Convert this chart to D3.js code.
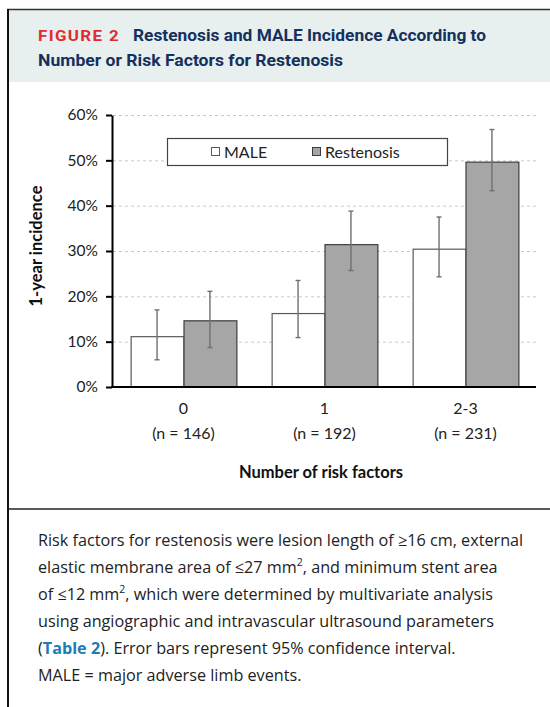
<!DOCTYPE html>
<html lang="en">
<head>
    <meta charset="utf-8">
    <title>Figure 2</title>
    <script src="https://d3js.org/d3.v7.min.js" charset="utf-8"></script>
    <style>
        body { margin: 0; background: #fff; }
        svg { display: block; }
    </style>
</head>
<body>

    <script>

    // data (percent)
    var categories = ["0", "1", "2-3"]
    var nLabels = ["(n = 146)", "(n = 192)", "(n = 231)"]
    var seriesNames = ["MALE", "Restenosis"]
    var maleValues = [11.1, 16.2, 30.4]
    var maleLow = [6.0, 10.9, 24.3]
    var maleHigh = [17.0, 23.5, 37.5]
    var restValues = [14.6, 31.4, 49.6]
    var restLow = [8.7, 25.7, 43.3]
    var restHigh = [21.1, 38.8, 56.8]
    var yTicks = [0, 10, 20, 30, 40, 50, 60]

    var captionLines = [
        [["Risk factors for restenosis were lesion length of \u226516 cm, external", ""]],
        [["elastic membrane area of \u226427 mm", ""], ["2", "sup"], [", and minimum stent area", "after"]],
        [["of \u226412 mm", ""], ["2", "sup"], [", which were determined by multivariate analysis", "after"]],
        [["using angiographic and intravascular ultrasound parameters", ""]],
        [["(", ""], ["Table 2", "link"], ["). Error bars represent 95% confidence interval.", ""]],
        [["MALE = major adverse limb events.", ""]]
    ]

    var W = 550, H = 707
    var chartFont = "Lato, 'Open Sans', sans-serif"

    var svg = d3.select("body").append("svg").attr("width", W).attr("height", H)

    // frame + header
    svg.append("rect").attr("x", 9).attr("y", 10).attr("width", W - 9).attr("height", 72).attr("fill", "#e8f0ef")
    svg.append("line").attr("x1", 7).attr("x2", W).attr("y1", 9.5).attr("y2", 9.5).attr("stroke", "#333").attr("stroke-width", 1.5)
    svg.append("line").attr("x1", 8).attr("x2", 8).attr("y1", 9).attr("y2", H).attr("stroke", "#111").attr("stroke-width", 2)
    svg.append("line").attr("x1", 8).attr("x2", W).attr("y1", 509).attr("y2", 509).attr("stroke", "#222").attr("stroke-width", 1.5)

    var head = svg.append("g").attr("font-family", "Roboto, sans-serif").attr("font-weight", "bold").attr("font-size", 16.5)
    head.append("text").attr("x", 38).attr("y", 41).attr("fill", "#e12b33").attr("letter-spacing", 1.2).attr("font-size", 15)
        .attr("textLength", 82).attr("lengthAdjust", "spacingAndGlyphs").text("FIGURE 2")
    head.append("text").attr("x", 133).attr("y", 41).attr("fill", "#15305e").attr("textLength", 353)
        .attr("lengthAdjust", "spacingAndGlyphs").text("Restenosis and MALE Incidence According to")
    head.append("text").attr("x", 38).attr("y", 66).attr("fill", "#15305e").attr("textLength", 305)
        .attr("lengthAdjust", "spacingAndGlyphs").text("Number or Risk Factors for Restenosis")

    // scales
    var x0 = d3.scaleBand().domain(categories).range([113, 536]).paddingInner(0.25).paddingOuter(0.125)
    var x1 = d3.scaleBand().domain(seriesNames).range([0, x0.bandwidth()])
    var y = d3.scaleLinear().domain([0, 60]).range([387, 115])

    var rows = categories.map(function (c, i) {
        return [
            {cat: c, s: "MALE", v: maleValues[i], lo: maleLow[i], hi: maleHigh[i]},
            {cat: c, s: "Restenosis", v: restValues[i], lo: restLow[i], hi: restHigh[i]}
        ]
    })
    var fills = {"MALE": "#ffffff", "Restenosis": "#a6a6a6"}
    var strokes = {"MALE": "#5a5a5a", "Restenosis": "#3c3c3c"}

    // gridlines
    svg.append("g").selectAll("line").data(yTicks.filter(function (d) { return d > 0 }))
        .enter().append("line")
        .attr("x1", 113).attr("x2", 536)
        .attr("y1", function (d) { return y(d) + 0.5 }).attr("y2", function (d) { return y(d) + 0.5 })
        .attr("stroke", "#c9c9c9").attr("stroke-dasharray", "3,3")

    // bars
    var groups = svg.append("g").selectAll("g").data(rows).enter().append("g")
        .attr("transform", function (d) { return "translate(" + x0(d[0].cat) + ",0)" })

    groups.selectAll("rect").data(function (d) { return d }).enter().append("rect")
        .attr("x", function (d) { return x1(d.s) + 0.5 })
        .attr("y", function (d) { return y(d.v) })
        .attr("width", x1.bandwidth())
        .attr("height", function (d) { return y(0) - y(d.v) })
        .attr("fill", function (d) { return fills[d.s] })
        .attr("stroke", function (d) { return strokes[d.s] })
        .attr("stroke-width", 1.2)

    // error bars
    var eb = groups.selectAll("g.err").data(function (d) { return d }).enter().append("g").attr("class", "err")
        .attr("stroke", "#707070").attr("stroke-width", 1.4)
    eb.append("line")
        .attr("x1", function (d) { return x1(d.s) + x1.bandwidth() / 2 })
        .attr("x2", function (d) { return x1(d.s) + x1.bandwidth() / 2 })
        .attr("y1", function (d) { return y(d.lo) }).attr("y2", function (d) { return y(d.hi) })
    ;["lo", "hi"].forEach(function (k) {
        eb.append("line")
            .attr("x1", function (d) { return x1(d.s) + x1.bandwidth() / 2 - 2.5 })
            .attr("x2", function (d) { return x1(d.s) + x1.bandwidth() / 2 + 2.5 })
            .attr("y1", function (d) { return y(d[k]) }).attr("y2", function (d) { return y(d[k]) })
    })

    // y axis
    var yAxis = svg.append("g").attr("transform", "translate(112,0)")
        .call(d3.axisLeft(y).tickValues(yTicks).tickSize(6).tickSizeOuter(0).tickPadding(8)
            .tickFormat(function (d) { return d + "%" }))
    yAxis.select(".domain").attr("stroke", "#000").attr("stroke-width", 2)
    yAxis.selectAll(".tick line").attr("stroke", "#000").attr("stroke-width", 2)
    yAxis.selectAll(".tick text").attr("font-family", chartFont).attr("font-size", 15.5).attr("fill", "#222")

    // x axis
    var xAxis = svg.append("g").attr("transform", "translate(0,387)")
        .call(d3.axisBottom(x0).tickSize(0).tickSizeOuter(0).tickPadding(16))
    xAxis.select(".domain").attr("stroke", "#000").attr("stroke-width", 2).attr("d", "M111,0H536")
    xAxis.selectAll(".tick text").attr("font-family", chartFont).attr("font-size", 16).attr("fill", "#222")
    xAxis.selectAll(".tick").append("text")
        .attr("y", 52).attr("fill", "#222").attr("font-family", chartFont).attr("font-size", 16)
        .text(function (d, i) { return nLabels[i] })

    // axis titles
    svg.append("text").attr("x", 321).attr("y", 478).attr("text-anchor", "middle")
        .attr("font-family", chartFont).attr("font-weight", "bold").attr("font-size", 16.5).attr("fill", "#111")
        .text("Number of risk factors")
    svg.append("text").attr("transform", "translate(42,246) rotate(-90)").attr("text-anchor", "middle")
        .attr("font-family", chartFont).attr("font-weight", "bold").attr("font-size", 16.5).attr("fill", "#111")
        .text("1-year incidence")

    // legend
    var lg = svg.append("g")
    lg.append("rect").attr("x", 167.5).attr("y", 138.5).attr("width", 280).attr("height", 27)
        .attr("fill", "#fff").attr("stroke", "#444").attr("stroke-width", 1.2)
    var legX = [211, 312]
    seriesNames.forEach(function (s, i) {
        lg.append("rect").attr("x", legX[i] + 0.5).attr("y", 147.5).attr("width", 8).attr("height", 8)
            .attr("fill", fills[s]).attr("stroke", strokes[s])
        lg.append("text").attr("x", legX[i] + 13).attr("y", 158).attr("font-family", chartFont)
            .attr("font-size", 16).attr("fill", "#222").text(s)
    })

    // caption
    var cap = svg.append("g").attr("font-family", "'Open Sans', sans-serif").attr("font-size", 16.2).attr("fill", "#222")
    captionLines.forEach(function (parts, i) {
        var t = cap.append("text").attr("x", 38).attr("y", 546 + i * 27)
        parts.forEach(function (p) {
            var ts = t.append("tspan").text(p[0])
            if (p[1] == "sup") ts.attr("font-size", 10.5).attr("dy", -7)
            if (p[1] == "after") ts.attr("dy", 7)
            if (p[1] == "link") ts.attr("font-weight", "bold").attr("fill", "#1f7bb6")
        })
    })

    </script>

</body>
</html>
